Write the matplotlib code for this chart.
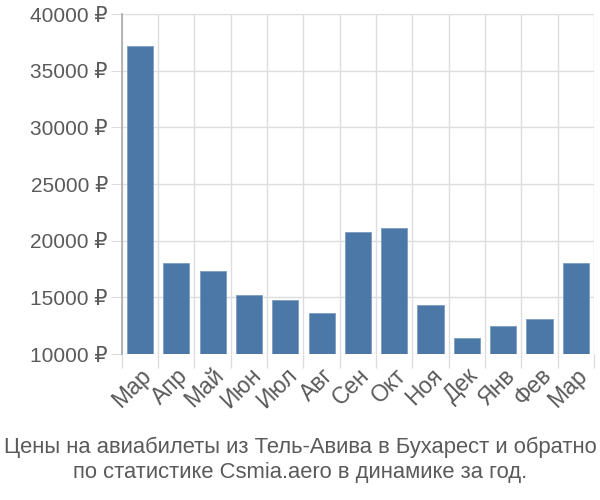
import numpy as np
import matplotlib.pyplot as plt

months = ['Мар', 'Апр', 'Май', 'Июн', 'Июл', 'Авг', 'Сен', 'Окт', 'Ноя', 'Дек', 'Янв', 'Фев', 'Мар']
prices = [37200, 17990, 17360, 15240, 14790, 13580, 20740, 21100, 14350, 11450, 12480, 13100, 18070]
yticks = [10000, 15000, 20000, 25000, 30000, 35000, 40000]

plt.rcParams['font.family'] = ['Liberation Sans', 'DejaVu Sans']

fig = plt.figure(figsize=(6, 5), dpi=100)
ax = fig.add_axes([0.203, 0.292, 0.787, 0.68])

x = np.arange(len(months))
ax.bar(x, np.array(prices) - 10000, bottom=10000, width=0.72, color='#4c78a8',
       edgecolor='#7a9cc4', linewidth=0.6, zorder=3)

ax.set_xlim(-0.5, len(months) - 0.5)
ax.set_ylim(10000, 40000)
ax.set_yticks(yticks)
ax.set_yticklabels([f'{v} ₽' for v in yticks])
ax.set_xticks(x)
ax.set_xticklabels(months, rotation=45, ha='right', rotation_mode='anchor')
ax.set_xticks(np.arange(-0.5, len(months)), minor=True)

ax.grid(axis='y', color='#dddddd', linewidth=1, zorder=0)
ax.grid(axis='x', which='minor', color='#dddddd', linewidth=1, zorder=0)
ax.tick_params(axis='x', which='major', length=0, labelsize=16.5, labelcolor='#5a5a5a', pad=7)
ax.tick_params(axis='x', which='minor', length=10, color='#dddddd', width=1)
ax.tick_params(axis='y', length=8, color='#dddddd', labelsize=15, labelcolor='#5a5a5a', pad=2)

for s in ['top', 'right', 'bottom']:
    ax.spines[s].set_visible(False)
ax.spines['left'].set_color('#aaaaaa')
ax.spines['left'].set_linewidth(1.2)

fig.text(0.5, 0.105, 'Цены на авиабилеты из Тель-Авива в Бухарест и обратно', ha='center',
         va='center', fontsize=15.8, color='#5a5a5a')
fig.text(0.5, 0.055, 'по статистике Csmia.aero в динамике за год.', ha='center',
         va='center', fontsize=15.8, color='#5a5a5a')

fig.savefig('out.png', dpi=100)
